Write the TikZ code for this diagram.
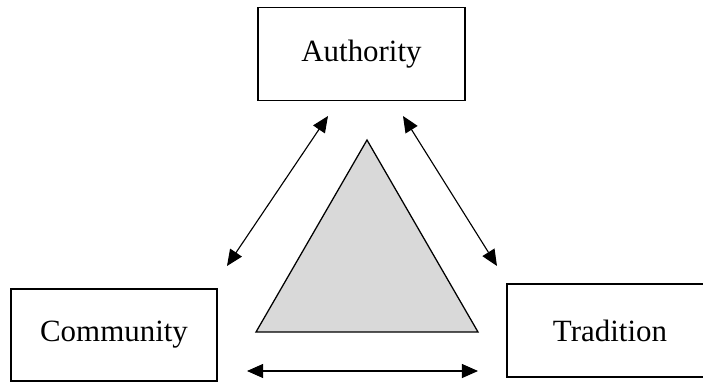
\documentclass[tikz,border=0pt]{standalone}
\usepackage{fontspec}
\setmainfont{Liberation Serif}
\usetikzlibrary{arrows.meta}

\begin{document}
\begin{tikzpicture}[x=0.025cm, y=-0.025cm,
  box/.style={draw=black, line width=1pt, inner sep=0pt, minimum width=5.175cm, minimum height=2.325cm, font=\fontsize{22}{26}\selectfont},
  link/.style={black, line width=0.8pt, {Triangle[length=11.5pt,width=10pt]}-{Triangle[length=11.5pt,width=10pt]}}]
\clip (0, 0) rectangle (703, 383);

\node[box] (authority) at (361.5, 54) {Authority};
\node[box, minimum width=5.15cm, minimum height=2.3cm] (community) at (114, 335) {Community};
\node[box, minimum width=5.15cm] (tradition) at (610, 330.5) {Tradition};

\draw[black, line width=0.9pt, fill=gray!30] (367, 140) -- (256, 332) -- (478, 332) -- cycle;

\coordinate (authleft) at (328, 116);
\coordinate (authright) at (403, 116);
\coordinate (commtop) at (227, 266);
\coordinate (tradtop) at (497, 266);
\coordinate (commright) at (247, 371);
\coordinate (tradleft) at (478, 371);

\draw[link] (commtop) -- (authleft);
\draw[link] (authright) -- (tradtop);
\draw[link] (commright) -- (tradleft);
\end{tikzpicture}
\end{document}
